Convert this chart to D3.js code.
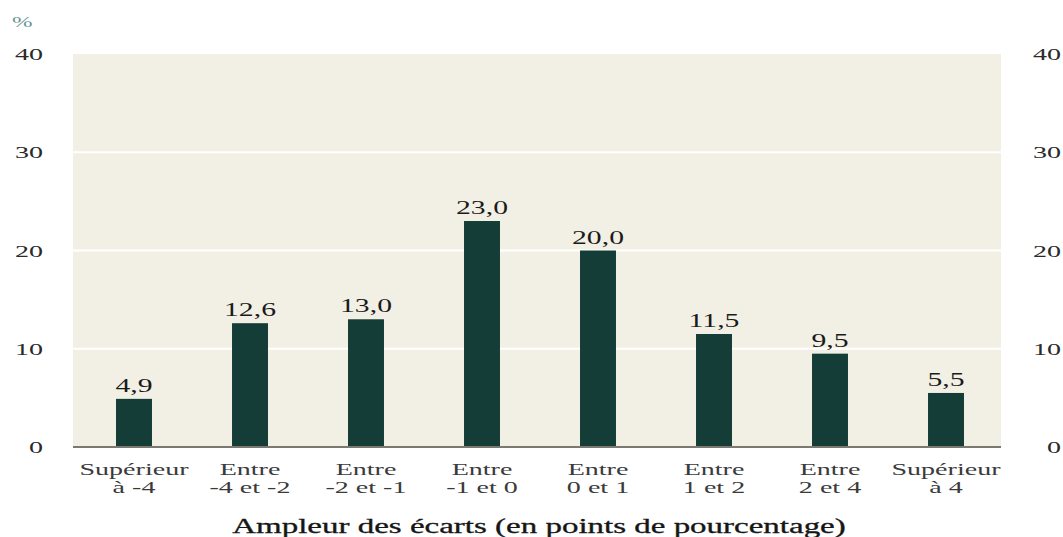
<!DOCTYPE html>
<html>
<head>
<meta charset="utf-8">
<script src="https://cdn.jsdelivr.net/npm/d3@7"></script>
<style>
  body { margin: 0; background: #fff; }
  text { font-family: "Liberation Serif", "DejaVu Serif", serif; }
</style>
</head>
<body>
<svg id="chart" width="1063" height="537"></svg>
<script>
// data
var categories = [
  ["Supérieur", "à -4"],
  ["Entre", "-4 et -2"],
  ["Entre", "-2 et -1"],
  ["Entre", "-1 et 0"],
  ["Entre", "0 et 1"],
  ["Entre", "1 et 2"],
  ["Entre", "2 et 4"],
  ["Supérieur", "à 4"]
];
var values = [4.9, 12.6, 13.0, 23.0, 20.0, 11.5, 9.5, 5.5];
var yTicks = [0, 10, 20, 30, 40];
var xTitle = "Ampleur des écarts (en points de pourcentage)";

var svg = d3.select("#chart");
var plotL = 73, plotR = 1001, plotT = 54, plotB = 447;
var sx = 1.65; // the original text is stretched sideways

var x = d3.scaleBand()
  .domain(d3.range(values.length))
  .range([plotL + 3, plotR + 3])
  .paddingInner(0.69)
  .paddingOuter(0.345);

var y = d3.scaleLinear().domain([0, 40]).range([plotB, plotT]);

// helper: stretched text
function stext(g, px, py, str, size, anchor, fill) {
  return g.append("text")
    .attr("transform", "translate(" + px + "," + py + ") scale(" + sx + ",1)")
    .attr("text-anchor", anchor)
    .attr("font-size", size)
    .attr("fill", fill)
    .text(str);
}

// background
svg.append("rect")
  .attr("x", plotL).attr("y", plotT)
  .attr("width", plotR - plotL).attr("height", plotB - plotT)
  .attr("fill", "#f2f0e4");

// grid
svg.append("g").selectAll("line")
  .data(yTicks.filter(function(d) { return d > 0 && d < 40; }))
  .join("line")
  .attr("x1", plotL).attr("x2", plotR)
  .attr("y1", function(d) { return y(d); })
  .attr("y2", function(d) { return y(d); })
  .attr("stroke", "#fff")
  .attr("stroke-width", 2);

// bars
svg.append("g").selectAll("rect")
  .data(values)
  .join("rect")
  .attr("x", function(d, i) { return x(i); })
  .attr("y", function(d) { return y(d); })
  .attr("width", x.bandwidth())
  .attr("height", function(d) { return y(0) - y(d); })
  .attr("fill", "#143d37");

// x axis line
svg.append("line")
  .attr("x1", plotL).attr("x2", plotR)
  .attr("y1", plotB).attr("y2", plotB)
  .attr("stroke", "#7a7a72")
  .attr("stroke-width", 2);

// value labels
var vl = svg.append("g");
values.forEach(function(d, i) {
  stext(vl, x(i) + x.bandwidth() / 2, y(d) - 7, d3.format(".1f")(d).replace(".", ","), 18, "middle", "#1a1a1a");
});

// y tick labels, both sides
var yl = svg.append("g");
yTicks.forEach(function(t) {
  stext(yl, 43, y(t) + 6, String(t), 17, "end", "#2a2a2a");
  stext(yl, 1061, y(t) + 6, String(t), 17, "end", "#2a2a2a");
});
stext(yl, 12, 27, "%", 15, "start", "#6a9795");

// category labels
var cl = svg.append("g");
categories.forEach(function(c, i) {
  var cx = x(i) + x.bandwidth() / 2;
  stext(cl, cx, 475, c[0], 17, "middle", "#3a3a3a");
  stext(cl, cx, 493, c[1], 17, "middle", "#3a3a3a");
});

// axis title
stext(svg, 539, 533, xTitle, 20, "middle", "#161616")
  .attr("stroke", "#161616").attr("stroke-width", 0.3);
</script>
</body>
</html>
